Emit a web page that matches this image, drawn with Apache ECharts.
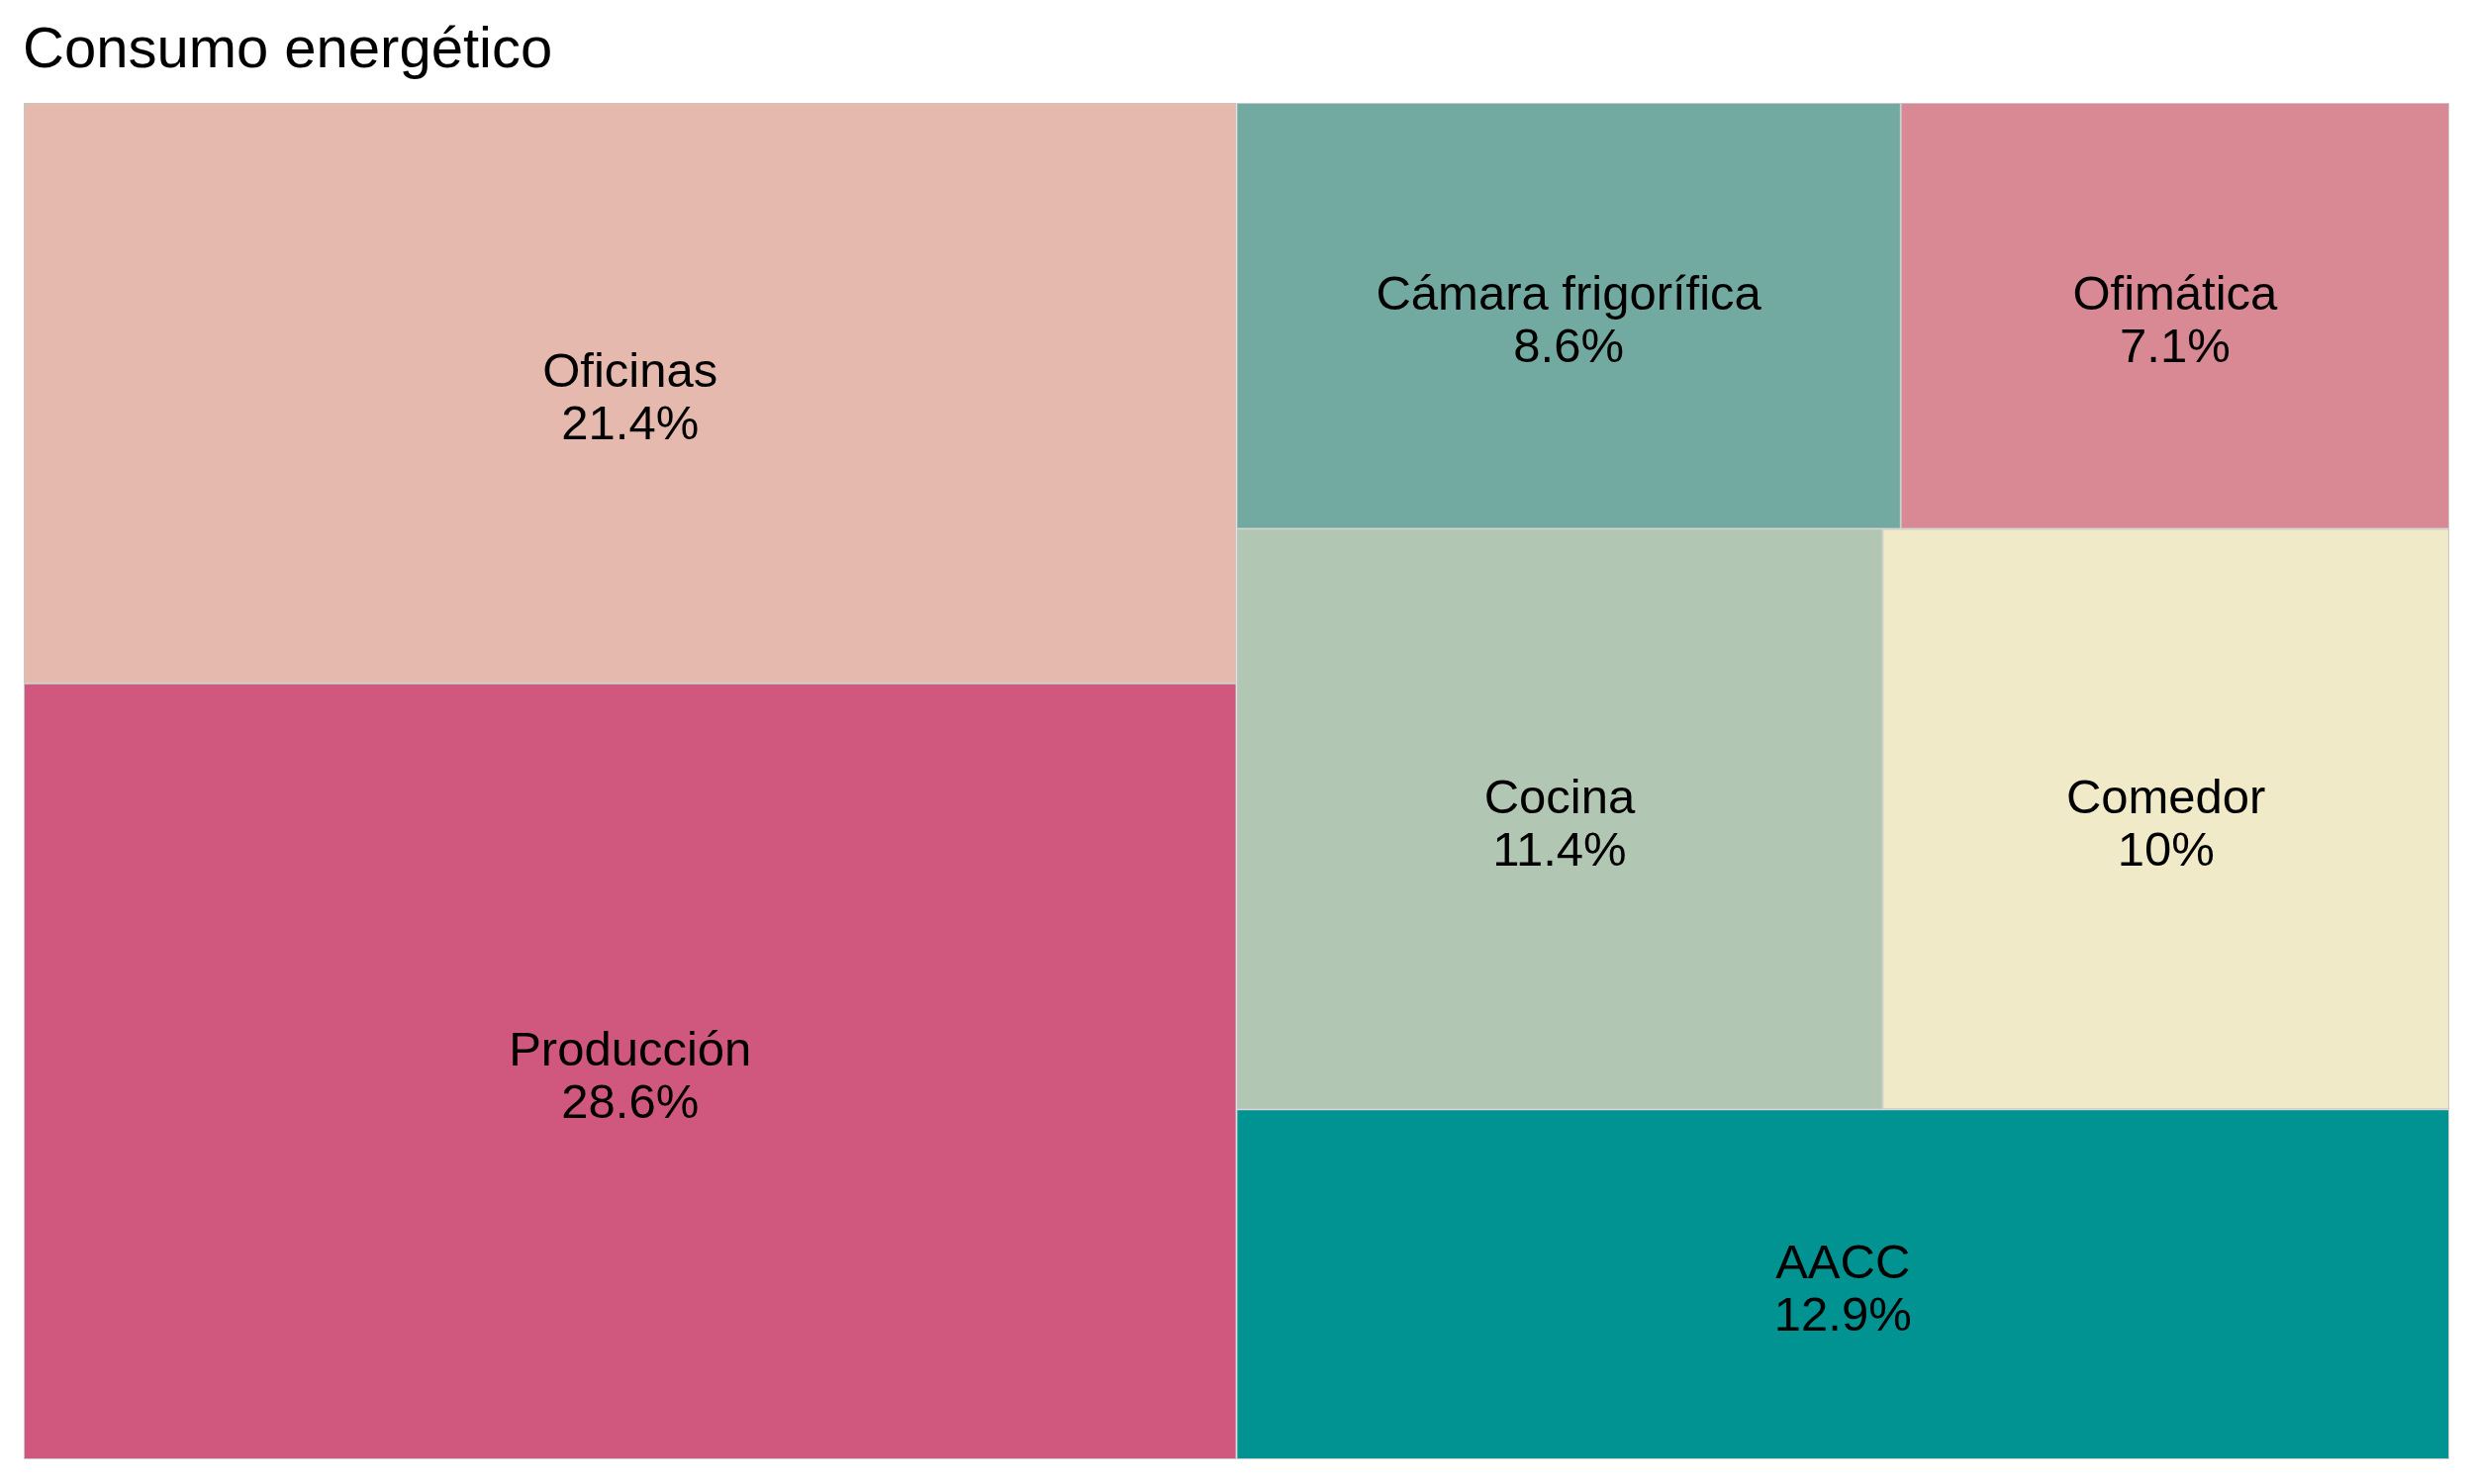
<!DOCTYPE html>
<html>
<head>
<meta charset="utf-8">
<script src="https://cdn.jsdelivr.net/npm/echarts@6/dist/echarts.min.js"></script>
<style>
  html, body { margin: 0; padding: 0; background: #ffffff; }
  #chart { width: 2500px; height: 1500px; }
</style>
</head>
<body>
<div id="chart"></div>
<script>
// ---- data ----
const chartTitle = 'Consumo energético';
const categories = ['AACC', 'Cámara frigorífica', 'Cocina', 'Comedor', 'Oficinas', 'Ofimática', 'Producción'];
const values = [12.9, 8.6, 11.4, 10, 21.4, 7.1, 28.6];
const palette = ['#009392', '#72aaa1', '#b1c7b3', '#f1eac8', '#e5b9ad', '#d98994', '#d0587e'];
// grouping of the tiles (tree of category names)
const grouping = ['Oficinas', 'Producción', [[['Cámara frigorífica', 'Ofimática'], ['Cocina', 'Comedor']], 'AACC']];

function buildNode(spec) {
  if (typeof spec === 'string') {
    const i = categories.indexOf(spec);
    return {
      name: spec,
      value: values[i],
      itemStyle: { color: palette[i], borderWidth: 1, borderColor: '#c6c6c6' }
    };
  }
  return { name: '', children: spec.map(buildNode) };
}
const treeData = grouping.map(buildNode);

const chart = echarts.init(document.getElementById('chart'), null, { renderer: 'canvas' });
chart.setOption({
  animation: false,
  backgroundColor: '#ffffff',
  title: {
    text: chartTitle,
    left: 23,
    top: 23,
    padding: 0,
    textStyle: { fontFamily: 'Liberation Sans', fontSize: 58, fontWeight: 'normal', color: '#000000' }
  },
  series: [{
    type: 'treemap',
    left: 24, top: 104, right: 25, bottom: 25,
    sort: false,
    roam: false,
    nodeClick: false,
    breadcrumb: { show: false },
    itemStyle: { borderWidth: 0, gapWidth: 0, borderColor: '#ffffff' },
    label: {
      show: true,
      position: 'inside',
      align: 'center',
      verticalAlign: 'middle',
      color: '#000000',
      fontFamily: 'Liberation Sans',
      fontSize: 49,
      lineHeight: 53,
      padding: 0,
      offset: [0, 7],
      formatter: function (p) { return p.name + '\n' + p.value + '%'; }
    },
    upperLabel: { show: false },
    data: treeData
  }]
});
</script>
</body>
</html>
